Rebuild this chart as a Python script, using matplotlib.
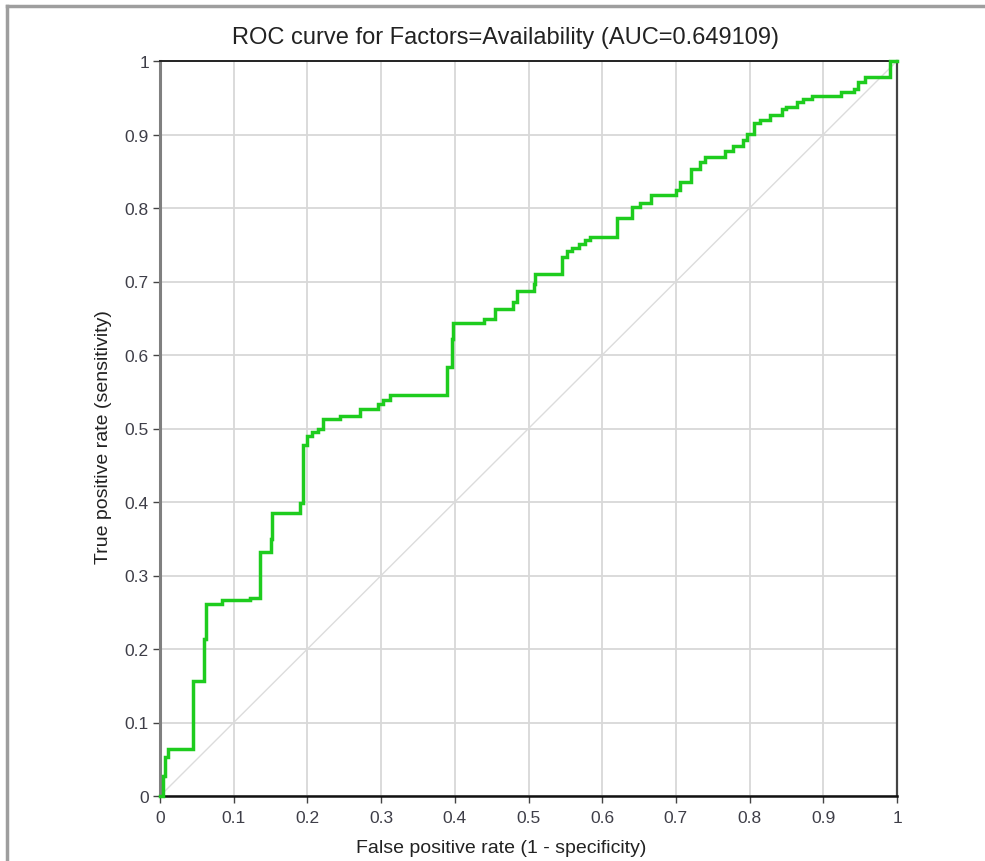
import matplotlib
matplotlib.use('Agg')
import matplotlib.pyplot as plt
from matplotlib.lines import Line2D

plt.rcParams['font.family'] = ['Liberation Sans', 'DejaVu Sans']

# ROC curve corners (steps-post): at each fpr the curve jumps up to tpr
fpr = [0, 0.004, 0.007, 0.011, 0.045, 0.060, 0.063, 0.084, 0.122, 0.136,
       0.150, 0.152, 0.190, 0.194, 0.199, 0.206, 0.215, 0.221,
       0.244, 0.271, 0.296, 0.303, 0.312,
       0.389, 0.396, 0.398,
       0.439, 0.455, 0.479, 0.484, 0.507, 0.509,
       0.546, 0.552, 0.559, 0.568, 0.577, 0.583,
       0.620, 0.640, 0.651, 0.666,
       0.700, 0.706, 0.720, 0.733, 0.739,
       0.767, 0.778, 0.791, 0.796, 0.806, 0.814, 0.828,
       0.844, 0.850, 0.864, 0.873, 0.884,
       0.924, 0.941, 0.947, 0.957,
       0.990, 1.0]
tpr = [0, 0.027, 0.053, 0.064, 0.157, 0.214, 0.261, 0.266, 0.270, 0.332,
       0.350, 0.385, 0.399, 0.477, 0.490, 0.495, 0.499, 0.513,
       0.517, 0.527, 0.533, 0.539, 0.545,
       0.583, 0.622, 0.644,
       0.649, 0.663, 0.672, 0.687, 0.697, 0.710,
       0.733, 0.742, 0.746, 0.751, 0.756, 0.760,
       0.787, 0.801, 0.807, 0.818,
       0.824, 0.835, 0.853, 0.863, 0.869,
       0.878, 0.884, 0.892, 0.901, 0.916, 0.920, 0.926,
       0.935, 0.937, 0.944, 0.948, 0.953,
       0.958, 0.962, 0.971, 0.978,
       1.0, 1.0]
ticks = [0, 0.1, 0.2, 0.3, 0.4, 0.5, 0.6, 0.7, 0.8, 0.9, 1]
title = 'ROC curve for Factors=Availability (AUC=0.649109)'

fig = plt.figure(figsize=(9.85, 8.62), dpi=100)
ax = fig.add_axes([160 / 985, 65 / 862, 737 / 985, 735 / 862])

ax.set_xlim(0, 1)
ax.set_ylim(0, 1)
ax.set_xticks(ticks)
ax.set_yticks(ticks)
ax.set_xticklabels(['%g' % t for t in ticks])
ax.set_yticklabels(['%g' % t for t in ticks])
ax.grid(True, color='#d8d8d8', linewidth=1.3, zorder=0)
ax.set_axisbelow(True)

ax.plot([0, 1], [0, 1], color='#dcdcdc', linewidth=1.0, zorder=1)
ax.plot(fpr, tpr, drawstyle='steps-post', color='#1ecc1e', linewidth=2.5,
        clip_on=False, zorder=3, solid_joinstyle='miter')

ax.spines['left'].set_color('#808080')
ax.spines['left'].set_linewidth(2.2)
ax.spines['bottom'].set_color('#111111')
ax.spines['bottom'].set_linewidth(1.8)
ax.spines['top'].set_color('#222222')
ax.spines['top'].set_linewidth(1.4)
ax.spines['right'].set_color('#444444')
ax.spines['right'].set_linewidth(1.6)

ax.tick_params(direction='out', length=5, width=1, color='#444444',
               labelcolor='#3e3e48', labelsize=12.5)
ax.tick_params(axis='x', pad=5)
ax.tick_params(axis='y', pad=3)

ax.set_xlabel('False positive rate (1 - specificity)', fontsize=14,
              color='#222222', va='center')
ax.set_ylabel('True positive rate (sensitivity)', fontsize=14,
              color='#222222', va='center')
ax.xaxis.set_label_coords((501 - 160) / 737, (797 - 849) / 735)
ax.yaxis.set_label_coords((104 - 160) / 737, (797 - 437) / 735)
fig.text(505 / 985, 1 - 38 / 862, title, ha='center', va='center',
         fontsize=17, color='#222222')

# window frame (left and top edges)
fig.add_artist(Line2D([7 / 985, 7 / 985], [0, 1 - 7 / 862],
                      transform=fig.transFigure, color='#9e9e9e', linewidth=2.5))
fig.add_artist(Line2D([7 / 985, 1], [1 - 7 / 862, 1 - 7 / 862],
                      transform=fig.transFigure, color='#9e9e9e', linewidth=2.5))

fig.savefig('out.png', dpi=100)
